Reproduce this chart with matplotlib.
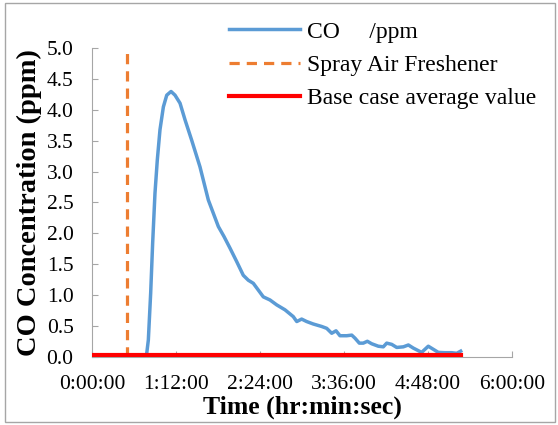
import matplotlib
matplotlib.use("Agg")
import matplotlib.pyplot as plt
from matplotlib.patches import Rectangle

# CO reading, time in minutes from start
time_min = [0, 46, 46.7, 48.1, 50.1, 51.8, 53.8, 55.8, 58.1, 61, 63.9, 67.6, 71,
            75.3, 79.6, 85.3, 92.4, 99.6, 108.2, 113, 118.2, 124, 129.6, 133.9,
            138.2, 142.5, 146.8, 152.5, 158.3, 165.4, 172.5, 175.5, 179.7, 184,
            189.7, 196.9, 201.2, 205.5, 209.2, 212.6, 218.4, 222.7, 225.5, 229.2,
            232.6, 236.1, 239.8, 245.5, 249.8, 252.7, 257, 261.3, 267, 271.3,
            275.5, 282.7, 288.4, 292.7, 297, 302.7, 308.5, 312.8, 316.2]
co_ppm = [0, 0, 0.05, 0.27, 1.03, 1.84, 2.65, 3.19, 3.68, 4.05, 4.24, 4.30, 4.24,
          4.11, 3.84, 3.51, 3.08, 2.54, 2.11, 1.95, 1.76, 1.54, 1.32, 1.24, 1.19,
          1.08, 0.97, 0.92, 0.84, 0.76, 0.65, 0.57, 0.61, 0.57, 0.53, 0.49, 0.46,
          0.38, 0.42, 0.34, 0.34, 0.35, 0.30, 0.22, 0.22, 0.25, 0.21, 0.17, 0.16,
          0.22, 0.20, 0.15, 0.16, 0.19, 0.14, 0.07, 0.17, 0.12, 0.07, 0.065,
          0.065, 0.055, 0.09]

spray_time = 30
spray_y = [0, 5.0]
base_avg = 0.02
base_x = [0, 316.2]

x_ticks = [0, 72, 144, 216, 288, 360]
x_labels = ["0:00:00", "1:12:00", "2:24:00", "3:36:00", "4:48:00", "6:00:00"]
y_ticks = [0.0, 0.5, 1.0, 1.5, 2.0, 2.5, 3.0, 3.5, 4.0, 4.5, 5.0]

plt.rcParams["font.family"] = ["Liberation Serif", "DejaVu Serif"]

fig = plt.figure(figsize=(5.58, 4.25), dpi=100)
ax = fig.add_axes([92.3 / 558, 1 - 356.7 / 425, (511.7 - 92.3) / 558, (356.7 - 48.3) / 425])

ax.plot(time_min, co_ppm, color="#5b9bd5", lw=2.5, label="CO     /ppm", zorder=3)
ax.plot([spray_time, spray_time], spray_y, color="#ed7d31", lw=2.3,
        ls=(0, (3.2, 2.2)), label="Spray Air Freshener", zorder=2)
ax.plot(base_x, [base_avg, base_avg], color="#ff0000", lw=3, label="Base case average value", zorder=4)

ax.set_xlim(0, 360)
ax.set_ylim(0, 5.0)
ax.set_xticks(x_ticks)
ax.set_xticklabels(x_labels)
ax.set_yticks(y_ticks)
ax.set_yticklabels([f"{v:.1f}" for v in y_ticks])
ax.tick_params(direction="in", length=4, color="#a6a6a6", labelsize=15.5)
ax.tick_params(axis="x", pad=13.5)
ax.tick_params(axis="y", pad=13.5)

for side in ("top", "right"):
    ax.spines[side].set_visible(False)
for side in ("left", "bottom"):
    ax.spines[side].set_color("#a6a6a6")

ax.set_xlabel("Time (hr:min:sec)", fontsize=18.5, fontweight="bold", labelpad=1)
ax.set_ylabel("CO Concentration (ppm)", fontsize=20.5, fontweight="bold", labelpad=3)

fig.legend(loc="upper left", bbox_to_anchor=(229 / 558, 1 - 21 / 425), frameon=False,
           fontsize=17, handlelength=3.0, handletextpad=0.3, labelspacing=0.5,
           borderpad=0, borderaxespad=0)

fig.patches.append(Rectangle((5 / 558, 3 / 425), 550 / 558, 419 / 425, transform=fig.transFigure,
                             fill=False, edgecolor="#a6a6a6", lw=1))

fig.savefig("out.png", dpi=100)
